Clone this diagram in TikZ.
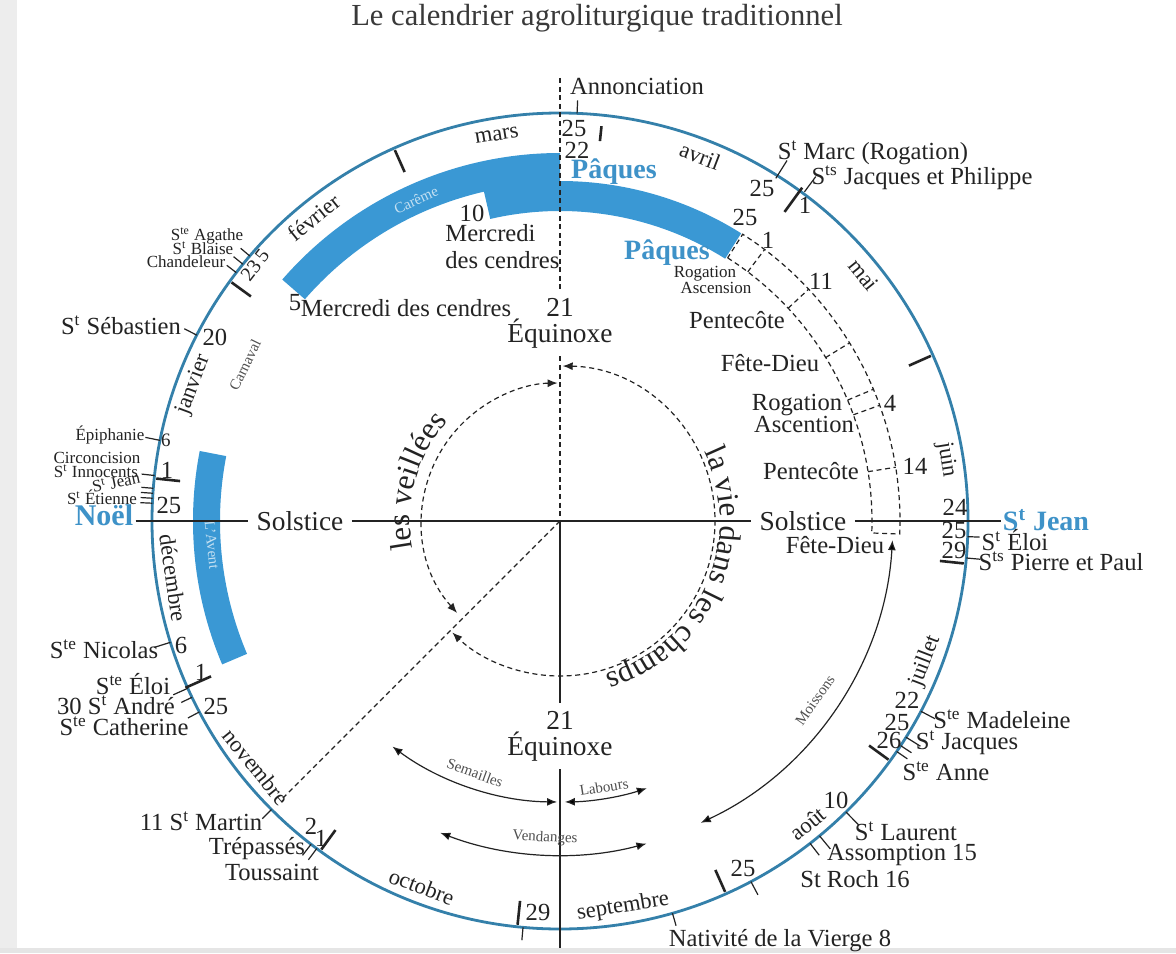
\documentclass[tikz,border=0pt]{standalone}
\usepackage{fontspec}
\setmainfont{Liberation Serif}
\usepackage{xcolor}
\usepackage{tikz}
\usetikzlibrary{arrows.meta,decorations.text}

\definecolor{ink}{RGB}{35,35,35}
\definecolor{ringblue}{RGB}{52,128,170}
\definecolor{bandblue}{RGB}{58,152,212}
\definecolor{feastblue}{RGB}{62,146,200}

\begin{document}
\begin{tikzpicture}[x=0.5pt, y=0.5pt,
    lab/.style={font=\fontsize{12.3}{13.5}\selectfont, text=ink, inner sep=1pt},
    biglab/.style={font=\fontsize{13.7}{13}\selectfont, text=ink, inner sep=4pt, align=center},
    tinylab/.style={font=\fontsize{8.5}{9}\selectfont, text=ink, inner sep=0.5pt},
    worklab/.style={font=\fontsize{7.5}{8}\selectfont, text=ink!80, inner sep=0.5pt},
    monthlab/.style={font=\fontsize{11.3}{12}\selectfont, text=ink, inner sep=0pt},
    feastlab/.style={font=\bfseries\fontsize{14}{15}\selectfont, text=feastblue, inner sep=1pt},
    inband/.style={font=\fontsize{7.5}{8}\selectfont, text=white!70!bandblue, inner sep=0pt},
    monthtick/.style={draw=ink, line width=1.3pt},
    daytick/.style={draw=ink, line width=0.6pt},
    axisline/.style={draw=ink, line width=0.8pt},
    dashline/.style={draw=ink, line width=0.6pt, dash pattern=on 2.5pt off 1.8pt},
    season/.style={draw=ink, line width=0.6pt, <->, >={Latex[length=5pt,width=4pt]}}]

    \useasboundingbox (-560,-432) rectangle (616,521);
    \fill[white] (-560,-432) rectangle (616,521);
    \fill[black!7] (-560,-432) rectangle (-543,521);
    \fill[black!10] (-560,-432) rectangle (616,-427);

    \node[font=\fontsize{15.3}{16}\selectfont, text=ink!90] (title) at (37,503) {Le calendrier agroliturgique traditionnel};

    % bandes bleues : careme et avent
    \fill[bandblue] (139:368) arc[start angle=139, end angle=90, radius=368] -- (90:338) arc[start angle=90, end angle=139, radius=338] -- cycle;
    \fill[bandblue] (103:340) arc[start angle=103, end angle=57.8, radius=340] -- (57.8:310) arc[start angle=57.8, end angle=103, radius=310] -- cycle;
    \fill[bandblue] (169:367) arc[start angle=169, end angle=203, radius=367] -- (203:340) arc[start angle=203, end angle=169, radius=340] -- cycle;
    \node[inband, rotate=25] (careme) at (-144,321) {Carême};
    \node[inband, rotate=-84] (avent) at (-348,-24) {L'Avent};

    % le cadran
    \draw[ringblue, line width=1.4pt] (0,0) circle[radius=408];
    \draw[monthtick] (174:382) -- (174:406) (144:382) -- (144:406) (114:382) -- (114:406)
        (84:382) -- (84:397) (54:382) -- (54:412) (24:382) -- (24:406) (-6:382) -- (-6:406)
        (-36:382) -- (-36:406) (-66:382) -- (-66:406) (-96:382) -- (-96:406)
        (-126:382) -- (-126:406) (-156:382) -- (-156:410);
    \draw[daytick] (87.6:408) -- (87.6:421) (57.8:405) -- (57.8:426) (53.4:410) -- (53.4:429)
        (-2.2:408) -- (-2.2:420) (-5.2:408) -- (-5.2:422) (-27.8:408) -- (-27.8:424)
        (-32:408) -- (-32:425) (-33.4:408) -- (-33.4:421) (-34.4:408) -- (-34.4:421)
        (-45.5:408) -- (-45.5:426) (-50.5:408) -- (-50.5:425) (-52.2:408) -- (-52.2:423)
        (-62.1:408) -- (-62.1:423) (-74:408) -- (-74:421) (-95.2:408) -- (-95.2:421)
        (233.4:408) -- (233.4:422) (232.4:408) -- (232.4:422) (225:408) -- (225:421)
        (207.9:408) -- (207.9:421) (205.6:408) -- (205.6:420) (204.2:408) -- (204.2:424)
        (197.3:408) -- (197.3:425) (175.4:408) -- (175.4:420) (176.1:408) -- (176.1:420)
        (176.8:408) -- (176.8:420) (177.5:408) -- (177.5:420) (173.6:408) -- (173.6:421)
        (168.6:408) -- (168.6:423) (152.9:408) -- (152.9:422)
        (139.5:408) -- (139.5:420) (141:408) -- (141:420) (142.5:408) -- (142.5:420);

    % les mois
    \node[monthlab, rotate=9.3] (mars) at (99.3:391) {mars};
    \node[monthlab, rotate=-21] (avril) at (69:391) {avril};
    \node[monthlab, rotate=-51] (mai) at (39:391) {mai};
    \node[monthlab, rotate=-81] (juin) at (9:391) {juin};
    \node[monthlab, rotate=69] (juillet) at (-21:391) {juillet};
    \node[monthlab, rotate=39.3] (aout) at (-50.7:391) {août};
    \node[monthlab, rotate=9.3] (septembre) at (-80.7:391) {septembre};
    \node[monthlab, rotate=-20.7] (octobre) at (-110.7:391) {octobre};
    \node[monthlab, rotate=-51] (novembre) at (-141:391) {novembre};
    \node[monthlab, rotate=-81.6] (decembre) at (-171.6:391) {décembre};
    \node[monthlab, rotate=69.6] (janvier) at (159.6:391) {janvier};
    \node[monthlab, rotate=39] (fevrier) at (129:391) {février};

    % axes
    \coordinate (centre) at (0,0);
    \coordinate (dialtop) at (0,443);
    \coordinate (dialbottom) at (0,-427);
    \coordinate (martin) at (225:392);
    \node[biglab] (equinoxN) at (0,198) {21\\Équinoxe};
    \node[biglab] (equinoxS) at (0,-215) {21\\Équinoxe};
    \node[biglab] (solsticeW) at (-260,0) {Solstice};
    \node[biglab] (solsticeE) at (243,0) {Solstice};
    \node[feastlab, font=\bfseries\fontsize{15}{16}\selectfont] (noel) at (-456,6) {Noël};
    \node[feastlab] (stjean) at (486,1) {S\textsuperscript{t} Jean};
    \draw[dashline] (dialtop) -- (equinoxN) (equinoxN) -- (centre);
    \draw[axisline] (centre) -- (equinoxS) (equinoxS) -- (dialbottom);
    \draw[axisline] (noel.east |- centre) -- (solsticeW) (solsticeW) -- (solsticeE) (solsticeE) -- (stjean.west |- centre);
    \draw[dashline] (centre) -- (martin);

    % veillees et vie dans les champs
    \draw[dashline, <->, >={Latex[length=5pt,width=4pt]}] (221.8:138) arc[start angle=221.8, end angle=91, radius=138];
    \draw[dashline, <->, >={Latex[length=5pt,width=4pt]}] (89:155) arc[start angle=89, end angle=-134, radius=155];
    \path[decorate, decoration={text along path, text align=center, text color=ink,
        text={|\fontsize{15.5}{16}\selectfont|les veillées}}] (196:150) arc[start angle=196, end angle=133, radius=150];
    \path[decorate, decoration={text along path, text align=center, text color=ink,
        text={|\fontsize{15.5}{16}\selectfont|la vie dans les champs}}] (30:160) arc[start angle=30, end angle=-78, radius=160];

    % fetes mobiles
    \draw[dashline] (57.5:312) arc[start angle=57.5, end angle=-2.2, radius=312] -- (-2.2:340) arc[start angle=-2.2, end angle=57.5, radius=340] -- cycle;
    \draw[dashline] (53:312) -- (53:340) (43:312) -- (43:340) (31.6:312) -- (31.6:340)
        (22.8:312) -- (22.8:340) (19.9:312) -- (19.9:340) (9.1:312) -- (9.1:340);

    % travaux
    \draw[season] (233.4:281) arc[start angle=233.4, end angle=269.4, radius=281];
    \draw[season] (271:281) arc[start angle=271, end angle=288, radius=281];
    \draw[season] (249:334) arc[start angle=249, end angle=285, radius=334];
    \draw[season] (-3.3:333) arc[start angle=-3.3, end angle=-65, radius=333];
    \node[worklab, rotate=-20] (semailles) at (-85,-252) {Semailles};
    \node[worklab, rotate=9] (labours) at (44,-266) {Labours};
    \node[worklab, rotate=-3] (vendanges) at (-15,-317) {Vendanges};
    \node[worklab, rotate=55] (moissons) at (255,-179) {Moissons};
    \node[worklab, rotate=64] (carnaval) at (-315,156) {Carnaval};

    % printemps
    \node[lab] (annonciation) at (77,435) {Annonciation};
    \node[lab] (d25mar) at (14,393) {25};
    \node[lab] (d22mar) at (17,371) {22};
    \node[feastlab] (paquesA) at (54,349) {Pâques};
    \node[lab] (stmarc) at (313,368) {S\textsuperscript{t} Marc (Rogation)};
    \node[lab] (d25apr) at (202,333) {25};
    \node[lab] (jacphil) at (362,343) {S\textsuperscript{ts} Jacques et Philippe};
    \node[lab] (d1may) at (245,316) {1};
    \node[lab] (d25late) at (185,304) {25};
    \node[feastlab] (paquesB) at (107,268) {Pâques};
    \node[tinylab] (rogA) at (145,247) {Rogation};
    \node[tinylab] (ascA) at (156,233) {Ascension};
    \node[lab] (d1asc) at (208,281) {1};
    \node[lab] (d11) at (261,240) {11};
    \node[lab] (pentA) at (177,201) {Pentecôte};
    \node[lab] (feteA) at (210,158) {Fête-Dieu};
    \node[lab] (rogB) at (237,116) {Rogation};
    \node[lab] (ascB) at (244,97) {Ascention};
    \node[lab] (d4) at (330,118) {4};
    \node[lab] (pentB) at (251,50) {Pentecôte};
    \node[lab] (d14) at (355,55) {14};
    \node[lab] (feteB) at (275,-24) {Fête-Dieu};

    % ete
    \node[lab] (d24jun) at (395,14) {24};
    \node[lab] (d25jun) at (394,-9) {25};
    \node[lab] (d29jun) at (394,-29) {29};
    \node[lab] (eloiE) at (455,-19) {S\textsuperscript{t} Éloi};
    \node[lab] (pierrepaul) at (501,-40) {S\textsuperscript{ts} Pierre et Paul};
    \node[lab] (d22jul) at (347,-179) {22};
    \node[lab] (madeleine) at (442,-198) {S\textsuperscript{te} Madeleine};
    \node[lab] (d25jul) at (337,-201) {25};
    \node[lab] (jacques) at (407,-222) {S\textsuperscript{t} Jacques};
    \node[lab] (d26jul) at (329,-219) {26};
    \node[lab] (anne) at (386,-250) {S\textsuperscript{te} Anne};
    \node[lab] (d10aug) at (276,-279) {10};
    \node[lab] (laurent) at (346,-310) {S\textsuperscript{t} Laurent};
    \node[lab] (assomption) at (342,-334) {Assomption 15};
    \node[lab] (roch) at (295,-358) {St Roch 16};
    \node[lab] (d25aug) at (183,-347) {25};
    \node[lab] (nativite) at (220,-420) {Nativité de la Vierge 8};

    % automne
    \node[lab] (d29sep) at (-22,-391) {29};
    \node[lab] (d2nov) at (-249,-305) {2};
    \node[lab] (d1nov) at (-239,-317) {1};
    \node[lab] (trepasses) at (-303,-328) {Trépassés};
    \node[lab] (toussaint) at (-288,-351) {Toussaint};
    \node[lab] (martinlab) at (-359,-300) {11 S\textsuperscript{t} Martin};
    \node[lab] (catherine) at (-436,-205) {S\textsuperscript{te} Catherine};
    \node[lab] (andre) at (-444,-184) {30 S\textsuperscript{t} André};
    \node[lab] (d25nov) at (-344,-185) {25};

    % hiver
    \node[lab] (eloiW) at (-427,-163) {S\textsuperscript{te} Éloi};
    \node[lab] (d1dec) at (-359,-151) {1};
    \node[lab] (nicolas) at (-456,-128) {S\textsuperscript{te} Nicolas};
    \node[lab] (d6dec) at (-379,-124) {6};
    \node[lab] (d25dec) at (-391,16) {25};
    \node[tinylab] (etienne) at (-458,24) {S\textsuperscript{t} Étienne};
    \node[tinylab, rotate=12] (jeanev) at (-444,39) {S\textsuperscript{t} Jean};
    \node[tinylab] (innocents) at (-464,50) {S\textsuperscript{t} Innocents};
    \node[tinylab] (circoncision) at (-463,63) {Circoncision};
    \node[lab] (d1jan) at (-393,51) {1};
    \node[tinylab] (epiphanie) at (-450,86) {Épiphanie};
    \node[tinylab, font=\fontsize{9.5}{10}\selectfont] (d6jan) at (-394,81) {6};
    \node[lab] (sebastien) at (-439,196) {S\textsuperscript{t} Sébastien};
    \node[lab] (d20jan) at (-345,184) {20};
    \node[tinylab] (agathe) at (-353,285) {S\textsuperscript{te} Agathe};
    \node[tinylab] (blaise) at (-357,273) {S\textsuperscript{t} Blaise};
    \node[tinylab] (chandeleur) at (-374,259) {Chandeleur};
    \node[lab, rotate=52, font=\fontsize{10}{10}\selectfont] (d235feb) at (-305,256) {23\,5};
    \node[lab] (d5feb) at (-265,218) {5};
    \node[lab] (cendresA) at (-154,213) {Mercredi des cendres};
    \node[lab] (d10mar) at (-88,308) {10};
    \node[lab, align=left, anchor=west] (cendresB) at (-117,274) {Mercredi\\des cendres};
\end{tikzpicture}
\end{document}
